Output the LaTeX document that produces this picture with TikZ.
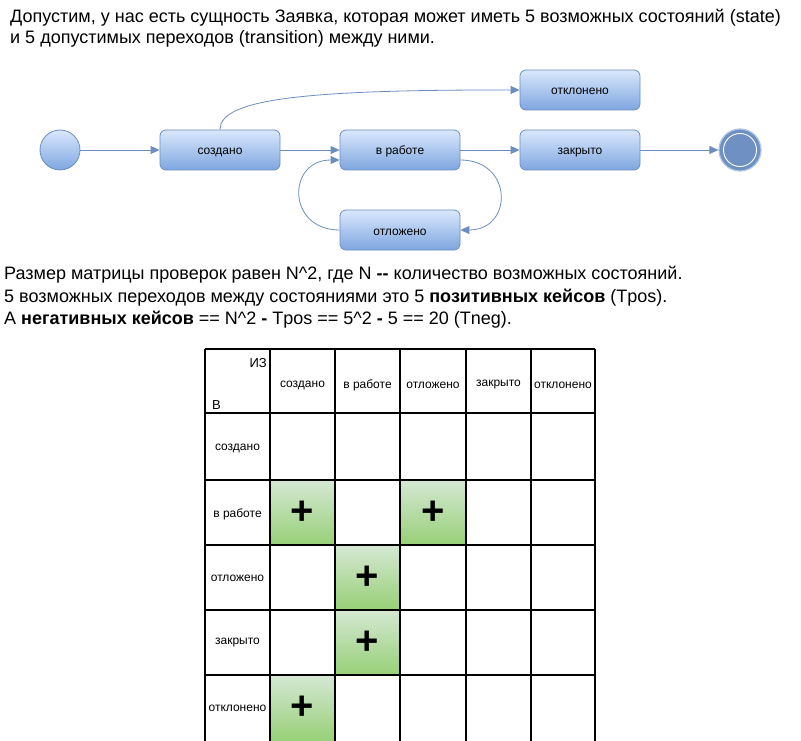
\documentclass[tikz,border=0pt]{standalone}
\usepackage{fontspec}
\setmainfont{Liberation Sans}
\usetikzlibrary{arrows.meta,calc}
\definecolor{bluetop}{HTML}{DAE8FC}
\definecolor{bluebot}{HTML}{7EA6E0}
\definecolor{bstroke}{HTML}{6C8EBF}
\definecolor{endfill}{HTML}{6E90C2}
\definecolor{gtop}{HTML}{D5E8D4}
\definecolor{gbot}{HTML}{97D077}
\tikzset{
  statebox/.style={draw=bstroke, line width=0.8pt, rounded corners=6pt, top color=bluetop, bottom color=bluebot,
    minimum width=120pt, minimum height=40pt, inner sep=0pt, text height=10pt, text depth=0pt, font=\fontsize{12}{14}\selectfont},
  startdot/.style={circle, draw=bstroke, line width=0.8pt, top color=bluetop, bottom color=bluebot, minimum size=40pt, inner sep=0pt},
  enddot/.style={circle, draw=bluetop!60!bstroke, line width=1.2pt, fill=endfill, minimum size=42pt, inner sep=0pt},
  flow/.style={draw=bstroke, line width=0.8pt, -{Triangle[length=9pt,width=8pt]}},
  para/.style={anchor=west, font=\fontsize{18}{21}\selectfont, inner sep=0pt},
  grid/.style={draw=black, line width=1.2pt},
  hdr/.style={font=\fontsize{12}{14}\selectfont, inner sep=0pt},
  rowlbl/.style={font=\fontsize{12}{14}\selectfont, inner sep=0pt},
  plus/.style={font=\fontsize{40}{40}\selectfont\bfseries, inner sep=0pt}
}
\begin{document}
\begin{tikzpicture}[x=1pt,y=-1pt]
\useasboundingbox (0,0) rectangle (801,741);
% top text
\node[para] (t1) at (10,18) {Допустим, у нас есть сущность Заявка, которая может иметь 5 возможных состояний (state)};
\node[para] (t2) at (10,39) {и 5 допустимых переходов (transition) между ними.};
% state diagram
\node[statebox] (sozd) at (220,150) {создано};
\node[statebox] (rab) at (400,150) {в работе};
\node[statebox] (otl) at (400,230) {отложено};
\node[statebox] (otkl) at (580,90) {отклонено};
\node[statebox] (zakr) at (580,150) {закрыто};
\node[startdot] (init) at (60,150) {};
\node[enddot] (fin) at (740,150) {};
\draw[white, line width=0.9pt] (fin.center) circle (16.5pt);
\draw[flow] (init) -- (sozd);
\draw[flow] (sozd) -- (rab);
\draw[flow] (rab) -- (zakr);
\draw[flow] (zakr) -- (fin);
\draw[flow] (sozd.north) .. controls ($(sozd.north)+(0,-30)$) and ($(sozd.north)+(80,-40)$) .. (otkl.west);
\draw[flow] ($(rab.east)+(0,10)$) .. controls ($(rab.east)+(53,10)$) and ($(otl.east)+(53,0)$) .. (otl.east);
\draw[flow] (otl.west) .. controls ($(otl.west)+(-53,0)$) and ($(rab.west)+(-53,10)$) .. ($(rab.west)+(0,10)$);
% middle text
\node[para] (m1) at (4,275) {Размер матрицы проверок равен N\^{}2, где N \textbf{-{}-} количество возможных состояний.};
\node[para] (m2) at (4,298) {5 возможных переходов между состояниями это 5 \textbf{позитивных кейсов} (Tpos).};
\node[para] (m3) at (4,320) {А \textbf{негативных кейсов} == N\^{}2 \textbf{-} Tpos == 5\^{}2 \textbf{-} 5 == 20 (Tneg).};
% table green cells
\shade[top color=gtop, bottom color=gbot] (270,480) rectangle (335,545);
\shade[top color=gtop, bottom color=gbot] (400,480) rectangle (466,545);
\shade[top color=gtop, bottom color=gbot] (335,545) rectangle (400,610);
\shade[top color=gtop, bottom color=gbot] (335,610) rectangle (400,675);
\shade[top color=gtop, bottom color=gbot] (270,675) rectangle (335,741);
% grid
\foreach \x in {205,270,335,400,466,531,595} \draw[grid] (\x,349) -- (\x,741);
\foreach \y in {349,413,480,545,610,675} \draw[grid] (205,\y) -- (595,\y);
% header
\node[hdr, anchor=east, font=\fontsize{13}{15}\selectfont] (iz) at (267,363) {ИЗ};
\node[hdr, anchor=west, font=\fontsize{13}{15}\selectfont] (v) at (212,405) {В};
\node[hdr] (h1) at (302.5,385) {создано};
\node[hdr] (h2) at (367.5,385) {в работе};
\node[hdr] (h3) at (433,385) {отложено};
\node[hdr] (h4) at (498.5,385) {закрыто};
\node[hdr] (h5) at (563,385) {отклонено};
\node[rowlbl] (r1) at (237.5,448) {создано};
\node[rowlbl] (r2) at (237.5,514) {в работе};
\node[rowlbl] (r3) at (237.5,578) {отложено};
\node[rowlbl] (r4) at (237.5,643) {закрыто};
\node[rowlbl] (r5) at (237.5,708) {отклонено};
\node[plus] (p1) at (302.5,513) {+};
\node[plus] (p2) at (433,513) {+};
\node[plus] (p3) at (367.5,578) {+};
\node[plus] (p4) at (367.5,643) {+};
\node[plus] (p5) at (302.5,708) {+};
\end{tikzpicture}
\end{document}
